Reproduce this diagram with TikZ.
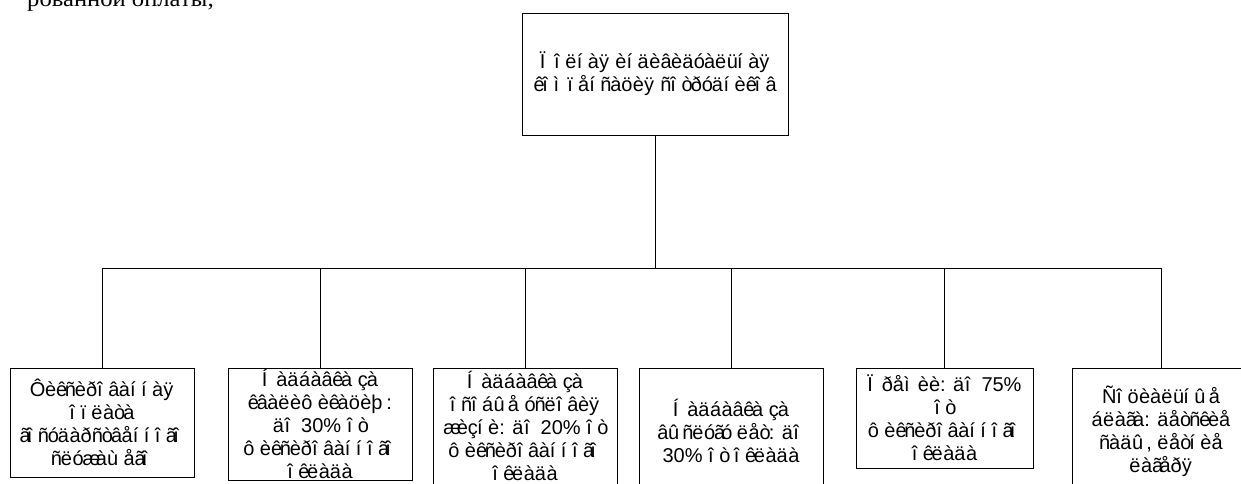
\documentclass[tikz,border=0pt]{standalone}
\usepackage{fontspec}
\setmainfont{Liberation Sans}
\newfontfamily\serifcyr{Liberation Serif}
\usepackage{newunicodechar}
\newlength\mjw
\newif\ifmoj \mojtrue
\newcommand\mj[2]{\ifmoj\settowidth\mjw{\char#1\relax}\makebox[\mjw][l]{#2}\else\char#1\relax\fi}
\newunicodechar{а}{\mj{"0430}{à}}
\newunicodechar{б}{\mj{"0431}{á}}
\newunicodechar{в}{\mj{"0432}{â}}
\newunicodechar{г}{\mj{"0433}{ã}}
\newunicodechar{д}{\mj{"0434}{ä}}
\newunicodechar{е}{\mj{"0435}{å}}
\newunicodechar{ж}{\mj{"0436}{æ}}
\newunicodechar{з}{\mj{"0437}{ç}}
\newunicodechar{и}{\mj{"0438}{è}}
\newunicodechar{й}{\mj{"0439}{é}}
\newunicodechar{к}{\mj{"043A}{ê}}
\newunicodechar{л}{\mj{"043B}{ë}}
\newunicodechar{м}{\mj{"043C}{ì}}
\newunicodechar{н}{\mj{"043D}{í}}
\newunicodechar{о}{\mj{"043E}{î}}
\newunicodechar{п}{\mj{"043F}{ï}}
\newunicodechar{р}{\mj{"0440}{ð}}
\newunicodechar{с}{\mj{"0441}{ñ}}
\newunicodechar{т}{\mj{"0442}{ò}}
\newunicodechar{у}{\mj{"0443}{ó}}
\newunicodechar{ф}{\mj{"0444}{ô}}
\newunicodechar{х}{\mj{"0445}{õ}}
\newunicodechar{ц}{\mj{"0446}{ö}}
\newunicodechar{ч}{\mj{"0447}{÷}}
\newunicodechar{ш}{\mj{"0448}{ø}}
\newunicodechar{щ}{\mj{"0449}{ù}}
\newunicodechar{ъ}{\mj{"044A}{ú}}
\newunicodechar{ы}{\mj{"044B}{û}}
\newunicodechar{ь}{\mj{"044C}{ü}}
\newunicodechar{э}{\mj{"044D}{ý}}
\newunicodechar{ю}{\mj{"044E}{þ}}
\newunicodechar{я}{\mj{"044F}{ÿ}}
\newunicodechar{Н}{\mj{"041D}{Í}}
\newunicodechar{П}{\mj{"041F}{Ï}}
\newunicodechar{С}{\mj{"0421}{Ñ}}
\newunicodechar{Ф}{\mj{"0424}{Ô}}
\tikzset{
  cbox/.style={draw, line width=0.9pt, inner sep=0pt, align=center,
    font=\fontsize{20}{23}\selectfont},
  link/.style={draw, line width=0.9pt}
}
\begin{document}
\begin{tikzpicture}[x=1pt,y=-1pt]
\path[use as bounding box, fill=white] (0,0) rectangle (1241,483);
\node[anchor=base west, inner sep=0pt, font=\serifcyr\fontsize{23}{26}\selectfont\mojfalse] (prev) at (27,6.5)
  {\scalebox{1.07}[1]{рованной оплаты;}};
\node[cbox, minimum width=266, minimum height=122] (top) at (655,74)
  {Полная индивидуальная\\компенсация сотрудников};
\node[cbox, minimum width=184, minimum height=109] (c1) at (102,422.5)
  {Фиксированная\\оплата\\государственного\\служащего};
\node[cbox, minimum width=184, minimum height=112] (c2) at (320,424)
  {Надбавка за\\квалификацию:\\до 30\% от\\фиксированного\\оклада};
\node[cbox, minimum width=184, minimum height=116] (c3) at (525,426)
  {Надбавка за\\особые условия\\жизни: до 20\% от\\фиксированного\\оклада};
\node[cbox, minimum width=184, minimum height=126] (c4) at (731,431)
  {Надбавка за\\выслугу лет: до\\30\% от оклада};
\node[cbox, minimum width=177, minimum height=100] (c5) at (944.5,418)
  {Премии: до 75\%\\от\\фиксированного\\оклада};
\node[cbox, minimum width=178, minimum height=127] (c6) at (1161,431.5)
  {Социальные\\блага: детские\\сады, летние\\лагеря};
\coordinate (bus) at (655,268);
\path[link] (top.south) -- (bus);
\path[link] (c1.north) -- (c1.north |- bus) -- (c6.north |- bus) -- (c6.north);
\path[link] (c2.north) -- (c2.north |- bus);
\path[link] (c3.north) -- (c3.north |- bus);
\path[link] (c4.north) -- (c4.north |- bus);
\path[link] (c5.north) -- (c5.north |- bus);
\end{tikzpicture}
\end{document}
